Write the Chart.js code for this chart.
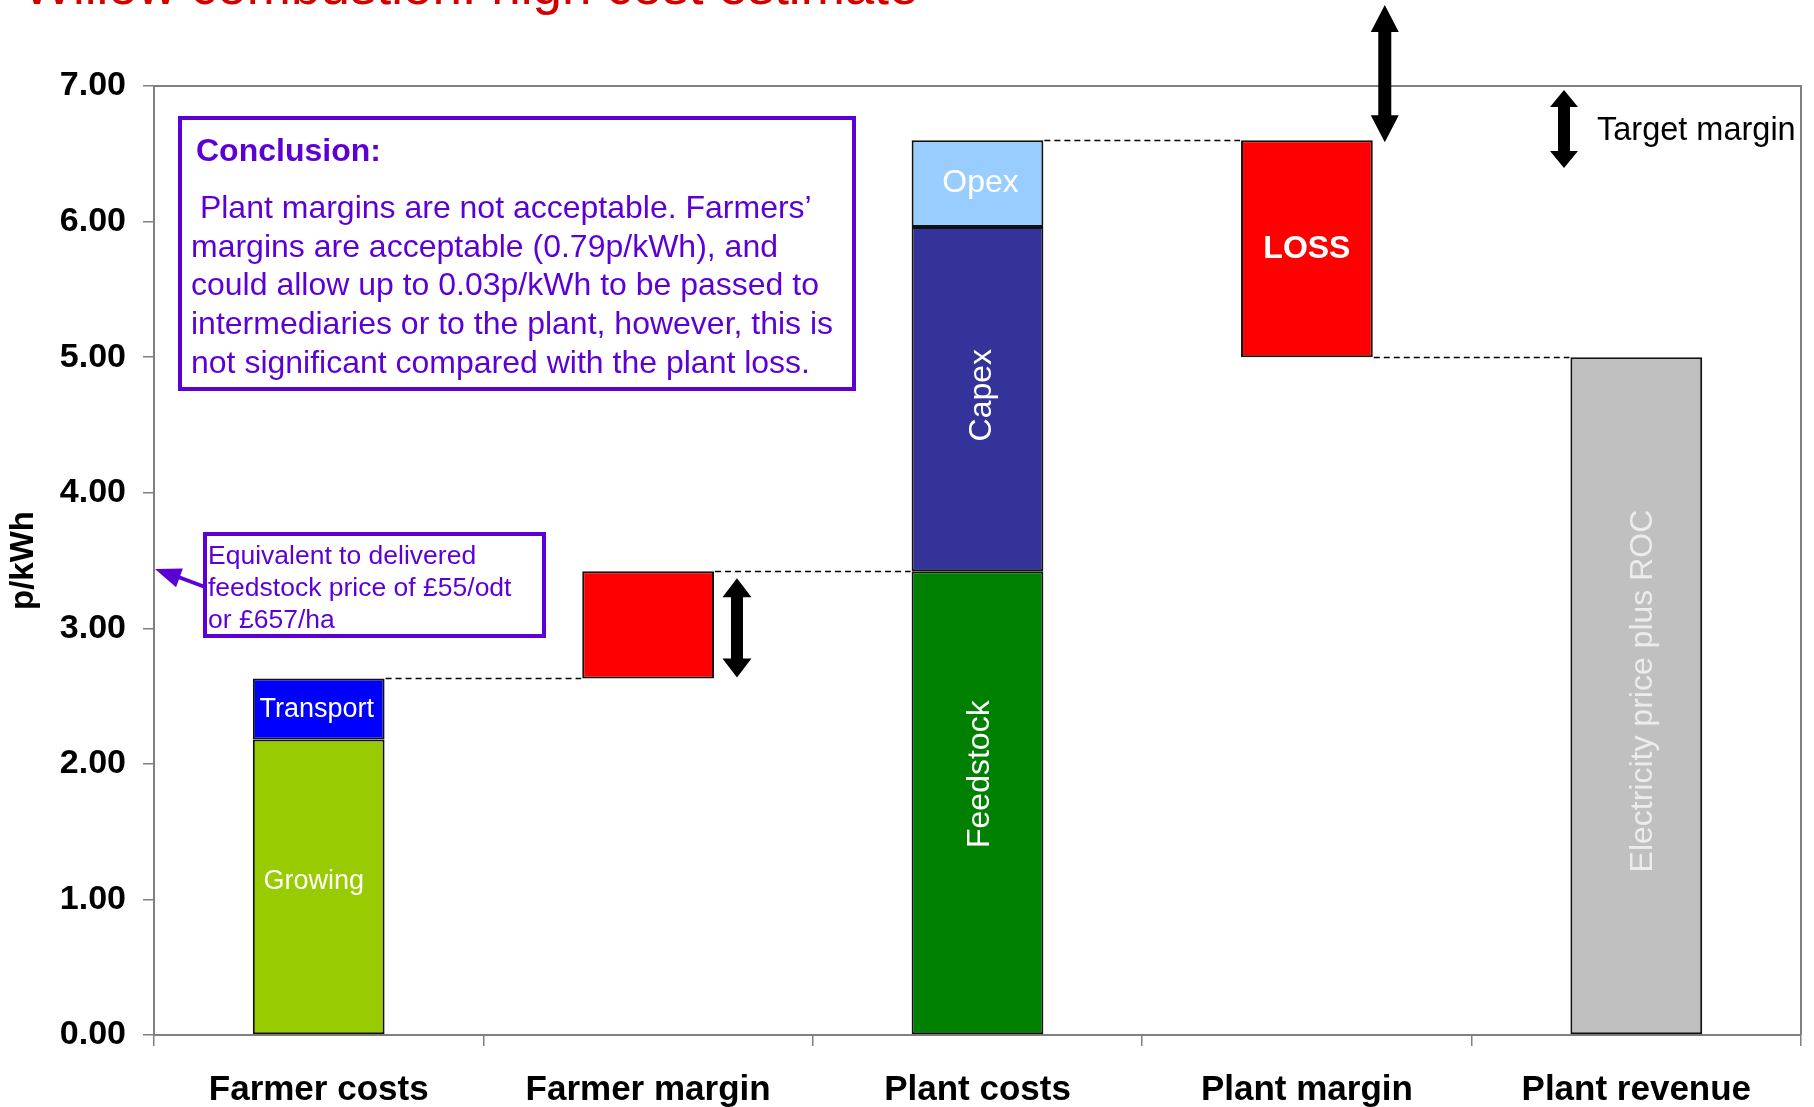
<!DOCTYPE html>
<html>
<head>
<meta charset="utf-8">
<title>Willow combustion: high cost estimate</title>
<script src="https://cdn.jsdelivr.net/npm/chart.js@4.4.1/dist/chart.umd.min.js"></script>
<style>
  html, body { margin: 0; padding: 0; background: #fff; }
  #wrap { width: 1814px; height: 1107px; }
</style>
</head>
<body>
<div id="wrap"><canvas id="costChart"></canvas></div>
<script>
// categories along the x axis
const categories = ['Farmer costs', 'Farmer margin', 'Plant costs', 'Plant margin', 'Plant revenue'];
// y axis ticks (p/kWh)
const yTicks = [0, 1, 2, 3, 4, 5, 6, 7];

// waterfall segments: label, category, bottom and top in p/kWh
const segNames = ['Growing', 'Transport', '', 'Feedstock', 'Capex', 'Opex', 'LOSS', 'Electricity price plus ROC'];
const segCat   = [0, 0, 1, 2, 2, 2, 3, 4];
const segLow   = [0.00, 2.18, 2.63, 0.00, 3.42, 5.96, 5.00, 0.00];
const segHigh  = [2.18, 2.63, 3.42, 3.42, 5.96, 6.60, 6.60, 5.00];

// dashed joins: level carried from category i to i+1
const joinLevels = [2.63, 3.42, 6.60, 5.00];

// styles for the segments
const segColors = ['#99cc00', '#0000ff', '#ff0000', '#008000', '#333399', '#99ccff', '#ff0000', '#c0c0c0'];
const segFont   = [27, 27, 27, 32, 32, 32, 32, 32];
const segBold   = [false, false, false, false, false, false, true, false];
const segRotate = [false, false, false, true, true, false, false, true];
const segText   = ['#fff', '#fff', '#fff', '#fff', '#fff', '#fff', '#fff', '#ececec'];
const segDx     = [-5, -2, 0, 3, 5, 3, 0, 7];
const segDy     = [-6, 1, 0, -29, -4, 0, 0, -5];

const FONT = "'Liberation Sans', Arial, sans-serif";
const PURPLE = '#5c00d6';
Chart.defaults.font.family = FONT;

const datasets = segNames.map((name, i) => ({
    label: name || 'Farmer margin',
    data: categories.map((c, k) => k === segCat[i] ? [segLow[i], segHigh[i]] : null),
    backgroundColor: segColors[i],
    borderColor: '#111',
    borderWidth: 2,
    borderSkipped: false,
    barPercentage: 0.4,
    categoryPercentage: 1
}));

function dblArrow(c, x, y1, y2, shaft, head, headLen) {
    c.beginPath();
    c.moveTo(x, y1);
    c.lineTo(x + head / 2, y1 + headLen);
    c.lineTo(x + shaft / 2, y1 + headLen);
    c.lineTo(x + shaft / 2, y2 - headLen);
    c.lineTo(x + head / 2, y2 - headLen);
    c.lineTo(x, y2);
    c.lineTo(x - head / 2, y2 - headLen);
    c.lineTo(x - shaft / 2, y2 - headLen);
    c.lineTo(x - shaft / 2, y1 + headLen);
    c.lineTo(x - head / 2, y1 + headLen);
    c.closePath();
    c.fill();
}

const overlay = {
    id: 'overlay',
    beforeDatasetsDraw(chart) {
        const c = chart.ctx, a = chart.chartArea;
        // frame on top and right
        c.save();
        c.strokeStyle = '#808080';
        c.lineWidth = 2;
        c.beginPath();
        c.moveTo(a.left, a.top);
        c.lineTo(a.right, a.top);
        c.lineTo(a.right, a.bottom);
        c.stroke();
        c.restore();
    },
    afterDatasetsDraw(chart) {
        const c = chart.ctx;
        const xs = chart.scales.x, ys = chart.scales.y;
        const half = 0.4 * (xs.width / categories.length) / 2;

        // dashed joins between the waterfall steps
        c.save();
        c.strokeStyle = '#000';
        c.lineWidth = 1.5;
        c.setLineDash([6, 4]);
        joinLevels.forEach((lv, i) => {
            const y = Math.round(ys.getPixelForValue(lv)) + 0.5;
            c.beginPath();
            c.moveTo(xs.getPixelForValue(i) + half + 1, y);
            c.lineTo(xs.getPixelForValue(i + 1) - half - 1, y);
            c.stroke();
        });
        c.restore();

        // labels in the segments
        segNames.forEach((name, i) => {
            if (!name) return;
            const x = xs.getPixelForValue(segCat[i]) + segDx[i];
            const y = (ys.getPixelForValue(segLow[i]) + ys.getPixelForValue(segHigh[i])) / 2 + segDy[i];
            c.save();
            c.translate(x, y);
            if (segRotate[i]) c.rotate(-Math.PI / 2);
            c.fillStyle = segText[i];
            c.font = (segBold[i] ? 'bold ' : '') + segFont[i] + 'px ' + FONT;
            c.textAlign = 'center';
            c.textBaseline = 'middle';
            c.fillText(name, 0, 0);
            c.restore();
        });
    },
    afterDraw(chart) {
        const c = chart.ctx;
        const xs = chart.scales.x, ys = chart.scales.y;
        const half = 0.4 * (xs.width / categories.length) / 2;

        c.save();
        // title, cut off at the top edge
        c.fillStyle = '#d40000';
        c.font = '53px ' + FONT;
        c.textBaseline = 'alphabetic';
        c.textAlign = 'left';
        c.fillText('Willow combustion: high cost estimate', 23, 4);

        // black double arrows
        c.fillStyle = '#000';
        dblArrow(c, xs.getPixelForValue(1) + half + 23, ys.getPixelForValue(3.42) + 7, ys.getPixelForValue(2.63) - 1, 12, 29, 19);
        dblArrow(c, xs.getPixelForValue(3) + half + 12, 5, ys.getPixelForValue(6.60) + 2, 13, 28, 27);
        dblArrow(c, 1564, 90, 168, 12, 28, 17);
        c.font = '32.5px ' + FONT;
        c.textBaseline = 'middle';
        c.fillText('Target margin', 1597, 131);

        // conclusion box
        c.strokeStyle = PURPLE;
        c.lineWidth = 4;
        c.strokeRect(180, 118, 674, 271);
        c.fillStyle = PURPLE;
        c.font = 'bold 32px ' + FONT;
        c.fillText('Conclusion:', 196, 152);
        c.font = '32px ' + FONT;
        const concl = [
            ' Plant margins are not acceptable. Farmers\u2019',
            'margins are acceptable (0.79p/kWh), and',
            'could allow up to 0.03p/kWh to be passed to',
            'intermediaries or to the plant, however, this is',
            'not significant compared with the plant loss.'
        ];
        concl.forEach((t, i) => c.fillText(t, 191, 209 + i * 38.8));

        // feedstock price note with arrow to the axis
        c.strokeRect(205, 534, 339, 102);
        c.font = '26.5px ' + FONT;
        ['Equivalent to delivered', 'feedstock price of \u00a355/odt', 'or \u00a3657/ha']
            .forEach((t, i) => c.fillText(t, 208, 557 + i * 32));
        const ax = chart.chartArea.left + 1, ay = 569;
        c.lineWidth = 4;
        c.beginPath();
        c.moveTo(205, 587);
        c.lineTo(ax + 18, ay + 6);
        c.stroke();
        const ang = Math.atan2(587 - ay, 205 - ax);
        c.beginPath();
        c.moveTo(ax, ay);
        c.lineTo(ax + 26 * Math.cos(ang) - 10 * Math.sin(ang), ay + 26 * Math.sin(ang) + 10 * Math.cos(ang));
        c.lineTo(ax + 26 * Math.cos(ang) + 10 * Math.sin(ang), ay + 26 * Math.sin(ang) - 10 * Math.cos(ang));
        c.closePath();
        c.fill();
        c.restore();
    }
};

const ctx = document.getElementById('costChart').getContext('2d');
const costChart = new Chart(ctx, {
    type: 'bar',
    data: { labels: categories, datasets: datasets },
    options: {
        responsive: true,
        maintainAspectRatio: false,
        animation: false,
        layout: { padding: { top: 86, right: 13, left: 0, bottom: 0 } },
        plugins: {
            legend: { display: false },
            tooltip: { enabled: false }
        },
        scales: {
            x: {
                stacked: true,
                grid: { offset: true, drawOnChartArea: false, tickLength: 11, color: '#808080', lineWidth: 1.5 },
                border: { color: '#808080', width: 2 },
                ticks: { color: '#000', font: { size: 35, weight: 'bold' }, padding: 23, maxRotation: 0 },
                afterFit: s => { s.height = 72; }
            },
            y: {
                stacked: false,
                min: 0,
                max: 7,
                afterBuildTicks: s => { s.ticks = yTicks.map(v => ({ value: v })); },
                grid: { drawOnChartArea: false, tickLength: 11, color: '#808080', lineWidth: 1.5 },
                border: { color: '#808080', width: 2 },
                ticks: { color: '#000', font: { size: 34, weight: 'bold' }, padding: 17, callback: v => v.toFixed(2) },
                title: { display: true, text: 'p/kWh', color: '#000', font: { size: 33, weight: 'bold' }, padding: { top: 4, bottom: 0 } },
                afterFit: s => { s.width = 154; }
            }
        }
    },
    plugins: [overlay]
});
</script>
</body>
</html>
